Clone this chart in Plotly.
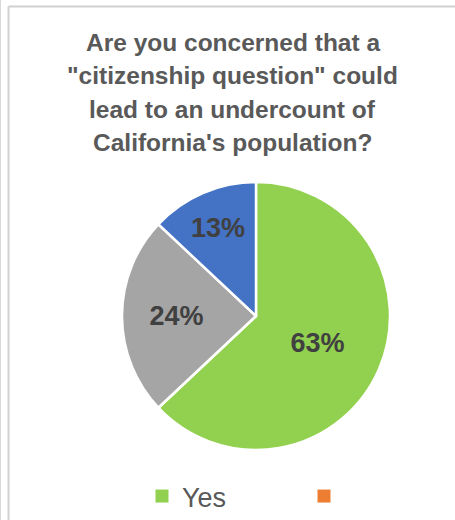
import plotly.graph_objects as go

# Survey answers (the second category is an empty, unlabeled row)
categories = ["Yes", " ", "No", "Unsure"]
shares = [63, 0, 24, 13]
slice_colors = ["#92D050", "#ED7D31", "#A5A5A5", "#4472C4"]

# The legend row only has room for the first two entries
legend_entries = 2

title_lines = [
    "Are you concerned that a",
    "\"citizenship question\" could",
    "lead to an undercount of",
    "California's population?",
]

W, H = 455, 520
FONT = "Liberation Sans, Arial, sans-serif"


def px_x(x):
    return x / W


def px_y(y):
    return 1 - y / H


fig = go.Figure()
fig.add_trace(
    go.Pie(
        labels=categories,
        values=shares,
        sort=False,
        direction="clockwise",
        rotation=0,
        marker=dict(colors=slice_colors, line=dict(color="white", width=2.5)),
        texttemplate="%{percent:.0%}",
        textposition="inside",
        insidetextorientation="horizontal",
        textfont=dict(family=FONT, size=27, color="#404040", weight="bold"),
        domain=dict(x=[px_x(122), px_x(390)], y=[px_y(450), px_y(182)]),
        hoverinfo="label+percent",
        showlegend=False,
    )
)

# Legend keys for the entries that fit
for name, color in zip(categories[:legend_entries], slice_colors[:legend_entries]):
    fig.add_trace(
        go.Scatter(
            x=[None],
            y=[None],
            mode="markers",
            name=name,
            marker=dict(symbol="square", size=13, color=color),
            hoverinfo="skip",
        )
    )

annotations = []
for i, line in enumerate(title_lines):
    annotations.append(
        dict(
            text=line,
            x=px_x(233),
            y=px_y(42 + i * 33.5),
            xref="paper",
            yref="paper",
            xanchor="center",
            yanchor="middle",
            showarrow=False,
            font=dict(family=FONT, size=24.5, color="#595959", weight="bold"),
        )
    )

shapes = [
    dict(type="line", xref="paper", yref="paper", x0=px_x(0.5), x1=px_x(0.5), y0=0, y1=1,
         line=dict(color="#D9D9D9", width=1)),
    dict(type="line", xref="paper", yref="paper", x0=px_x(8.5), x1=px_x(8.5), y0=0, y1=px_y(6.5),
         line=dict(color="#D0D0D0", width=2)),
    dict(type="line", xref="paper", yref="paper", x0=px_x(8.5), x1=1, y0=px_y(6.5), y1=px_y(6.5),
         line=dict(color="#D0D0D0", width=2)),
]

fig.update_layout(
    width=W,
    height=H,
    margin=dict(l=0, r=0, t=0, b=0, pad=0, autoexpand=False),
    paper_bgcolor="white",
    plot_bgcolor="white",
    xaxis=dict(visible=False),
    yaxis=dict(visible=False),
    annotations=annotations,
    shapes=shapes,
    showlegend=True,
    legend=dict(
        orientation="h",
        x=px_x(142),
        xanchor="left",
        y=px_y(472),
        yanchor="top",
        entrywidth=117,
        entrywidthmode="pixels",
        font=dict(family=FONT, size=27, color="#595959"),
        bgcolor="rgba(0,0,0,0)",
        traceorder="normal",
    ),
)

fig.write_html("out.html")
